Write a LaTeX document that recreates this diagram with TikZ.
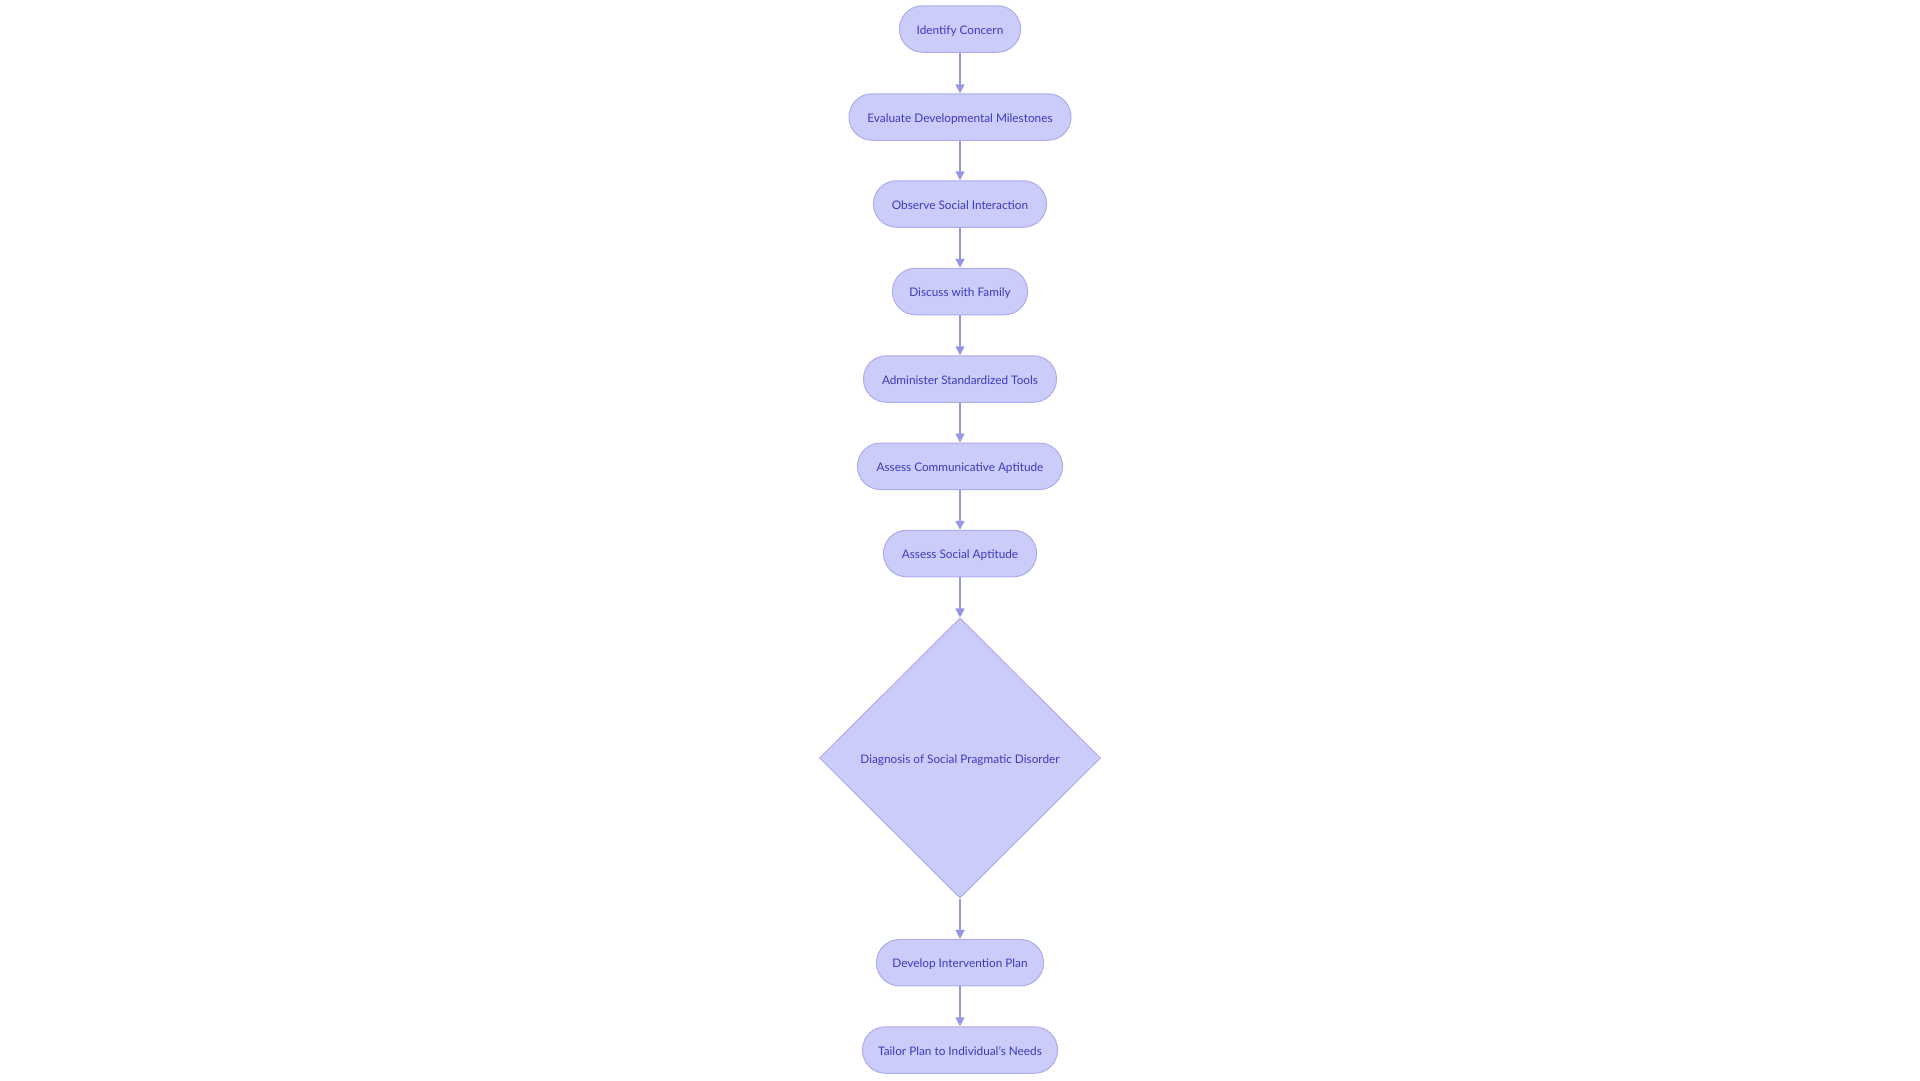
\documentclass[tikz,border=0pt]{standalone}
\usepackage{fontspec}
\setmainfont{Lato}
\usetikzlibrary{shapes.geometric,arrows.meta}
\definecolor{nodefill}{RGB}{204,204,250}
\definecolor{nodeline}{RGB}{172,172,236}
\definecolor{nodetext}{RGB}{58,58,190}
\definecolor{edgecol}{RGB}{150,150,226}
\tikzset{
  procbox/.style={draw=nodeline, fill=nodefill, line width=1pt, rounded corners=23pt,
    minimum height=46.5pt, inner sep=0pt, text=nodetext, text height=10pt, text depth=0pt,
    font=\fontsize{11.8}{14}\selectfont},
  decbox/.style={diamond, draw=nodeline, fill=nodefill, line width=1pt, inner sep=0pt,
    minimum width=281pt, minimum height=280pt, text=nodetext, text height=10pt, text depth=0pt,
    font=\fontsize{11.8}{14}\selectfont},
  flow/.style={draw=edgecol, line width=1.6pt, -{Triangle[length=9pt,width=9pt]}}
}
\begin{document}
\begin{tikzpicture}[x=1pt,y=1pt]
\useasboundingbox (0,0) rectangle (1920,-1080);
\node[procbox, minimum width=121pt] (n1) at (960,-29) {Identify Concern};
\node[procbox, minimum width=222pt] (n2) at (960,-117) {Evaluate Developmental Milestones};
\node[procbox, minimum width=173pt] (n3) at (960,-204) {Observe Social Interaction};
\node[procbox, minimum width=135pt] (n4) at (960,-291.5) {Discuss with Family};
\node[procbox, minimum width=193pt] (n5) at (960,-379) {Administer Standardized Tools};
\node[procbox, minimum width=205pt] (n6) at (960,-466.3) {Assess Communicative Aptitude};
\node[procbox, minimum width=153pt] (n7) at (960,-553.5) {Assess Social Aptitude};
\node[decbox] (n8) at (960,-758) {Diagnosis of Social Pragmatic Disorder};
\node[procbox, minimum width=167pt] (n9) at (960,-962.7) {Develop Intervention Plan};
\node[procbox, minimum width=195pt] (n10) at (960,-1050) {Tailor Plan to Individual's Needs};
\draw[flow] (n1) -- (n2);
\draw[flow] (n2) -- (n3);
\draw[flow] (n3) -- (n4);
\draw[flow] (n4) -- (n5);
\draw[flow] (n5) -- (n6);
\draw[flow] (n6) -- (n7);
\draw[flow] (n7) -- (n8);
\draw[flow] (n8) -- (n9);
\draw[flow] (n9) -- (n10);
\end{tikzpicture}
\end{document}
